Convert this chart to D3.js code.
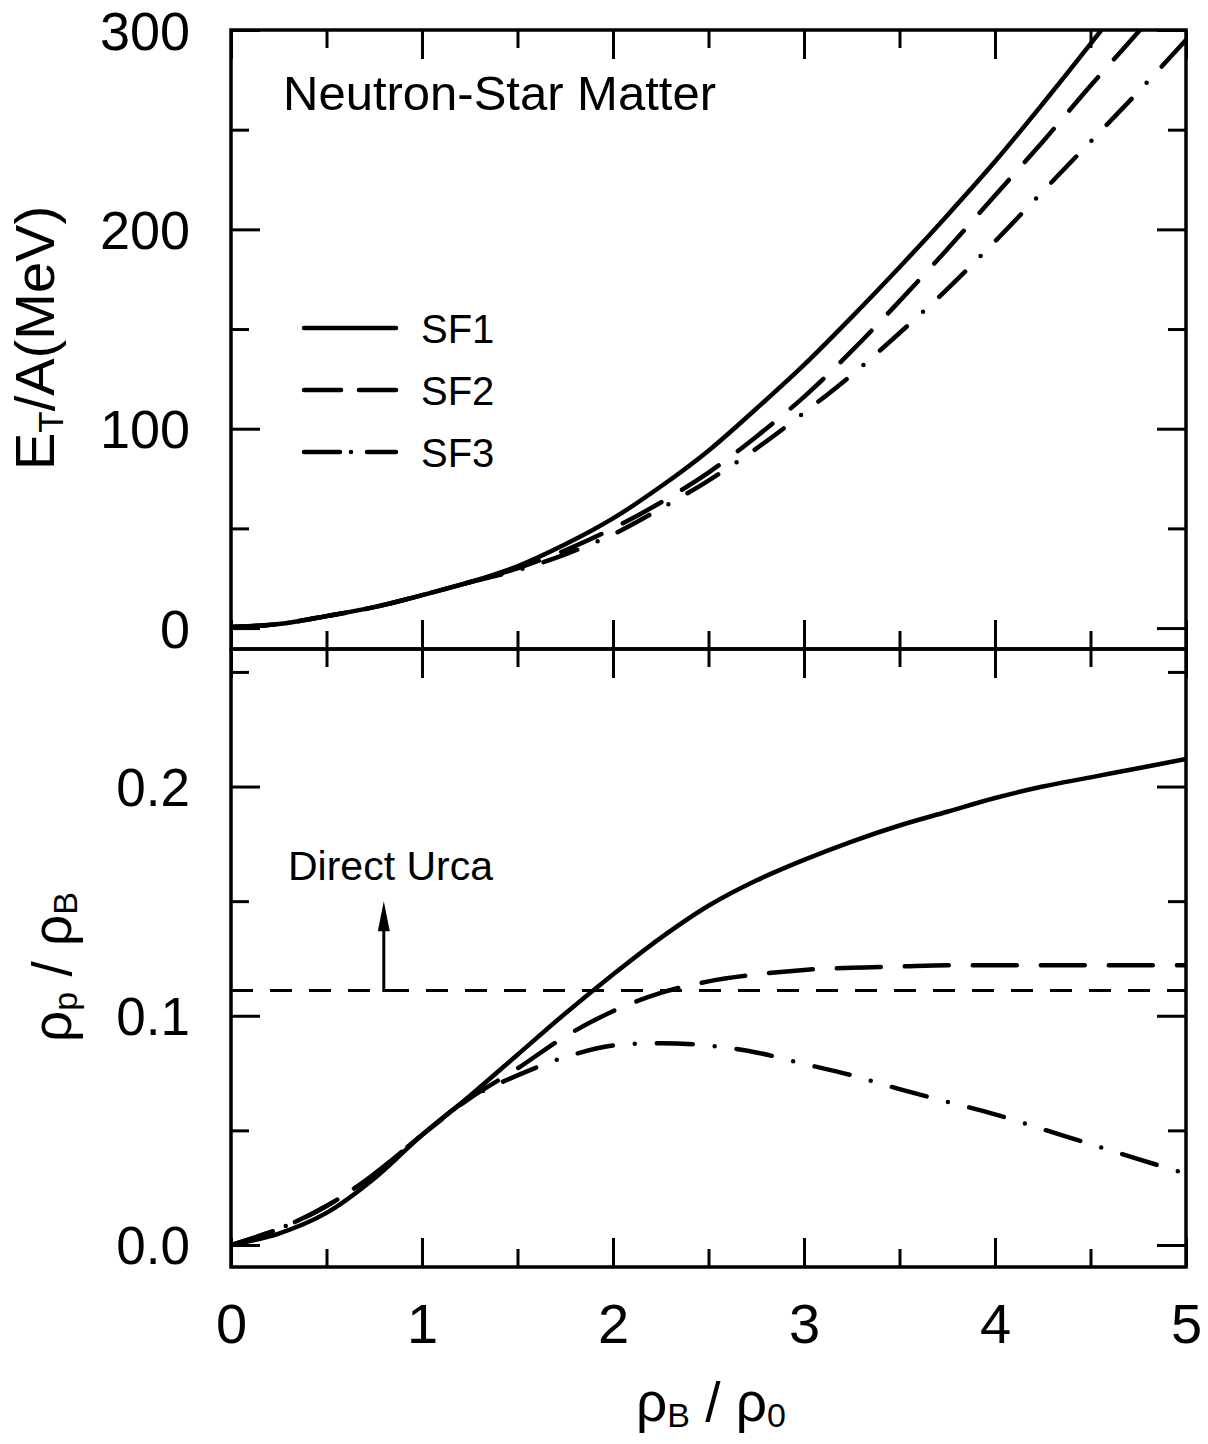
<!DOCTYPE html>
<html>
<head>
<meta charset="utf-8">
<script src="https://cdn.jsdelivr.net/npm/d3@7"></script>
<style>
  html, body { margin: 0; padding: 0; background: #fff; }
  svg { display: block; font-family: "Liberation Sans", Arial, Helvetica, sans-serif; }
</style>
</head>
<body>
<svg id="chart" width="1208" height="1444"></svg>
<script>
// density grid (rho_B / rho_0)
const rho = [0, 0.25, 0.5, 0.75, 1, 1.25, 1.5, 1.75, 2, 2.25, 2.5, 2.75, 3, 3.25, 3.5, 3.75, 4, 4.25, 4.5, 4.75, 5];

// E_T/A (MeV)
const sf1Energy = [0.5, 2, 6, 10.5, 16.5, 23, 31, 42, 55, 71, 89, 110, 132, 156, 181, 207, 234, 263, 293, 324, 356];
const sf2Energy = [0.5, 2, 6, 10.5, 16.5, 23, 30, 39, 50, 63, 78, 96, 116, 139, 164, 190, 217, 244, 272, 299, 326];
const sf3Energy = [0.5, 2, 6, 10.5, 16.5, 23, 29, 37, 47, 60, 74, 90, 108, 127, 148, 170, 194, 219, 244, 269, 295];

// proton fraction rho_p / rho_B, lower panel
const sf1Frac = [0, 0.005, 0.014, 0.029, 0.048, 0.065, 0.083, 0.101, 0.118, 0.134, 0.148, 0.159, 0.168, 0.176, 0.183, 0.189, 0.195, 0.200, 0.204, 0.208, 0.212];
const sf2Frac = [0, 0.007, 0.017, 0.031, 0.048, 0.064, 0.077, 0.091, 0.102, 0.110, 0.115, 0.118, 0.120, 0.121, 0.1215, 0.122, 0.122, 0.122, 0.122, 0.122, 0.122];
const sf3Frac = [0, 0.007, 0.017, 0.031, 0.048, 0.064, 0.074, 0.082, 0.087, 0.088, 0.087, 0.084, 0.079, 0.074, 0.068, 0.0625, 0.057, 0.0505, 0.044, 0.0375, 0.031];

// direct Urca threshold and its arrow
const urcaLevel = 0.111;
const urcaArrowX = 0.8;
const urcaArrowTip = 0.150;

const seriesNames = ["SF1", "SF2", "SF3"];
const xTicks = [0, 1, 2, 3, 4, 5];
const xMinor = [0.5, 1.5, 2.5, 3.5, 4.5];
const eTicks = [0, 100, 200, 300];
const eMinor = [50, 150, 250];
const fTicks = [0, 0.1, 0.2];
const fMinor = [0.05, 0.15, 0.25];

const svg = d3.select("#chart");
const left = 231, right = 1186;
const topY = 30, midY = 649, botY = 1267;
const MAJOR = 29, MINOR = 18;

const x = d3.scaleLinear().domain([0, 5]).range([left, right]);
const yE = d3.scaleLinear().domain([-10.5, 300]).range([midY, topY]);
const yF = d3.scaleLinear().domain([-0.0096, 0.26]).range([botY, midY]);

// line styles: [curve dasharray, legend dasharray]
const styles = {
    SF1: ["none", "none"],
    SF2: ["44,24", "37,18"],
    SF3: ["36,22,0,22", "36,11,0,16"]
};

const defs = svg.append("defs");
defs.append("clipPath").attr("id", "clipTop")
    .append("rect").attr("x", left).attr("y", topY).attr("width", right - left).attr("height", midY - topY);
defs.append("clipPath").attr("id", "clipBot")
    .append("rect").attr("x", left).attr("y", midY).attr("width", right - left).attr("height", botY - midY);

function tickAxis(axisFn, scale, values, size, translate) {
    const g = svg.append("g")
        .attr("transform", translate)
        .call(axisFn(scale).tickValues(values).tickSize(size).tickFormat(""));
    g.select(".domain").remove();
    g.selectAll(".tick line").attr("stroke", "#000").attr("stroke-width", 3);
    return g;
}

// ticks, all pointing into the panels
[[xTicks, MAJOR], [xMinor, MINOR]].forEach(([vals, size]) => {
    tickAxis(d3.axisBottom, x, vals, size, `translate(0,${topY})`);
    tickAxis(d3.axisTop, x, vals, size, `translate(0,${midY})`);
    tickAxis(d3.axisBottom, x, vals, size, `translate(0,${midY})`);
    tickAxis(d3.axisTop, x, vals, size, `translate(0,${botY})`);
});
[[eTicks, MAJOR], [eMinor, MINOR]].forEach(([vals, size]) => {
    tickAxis(d3.axisRight, yE, vals, size, `translate(${left},0)`);
    tickAxis(d3.axisLeft, yE, vals, size, `translate(${right},0)`);
});
[[fTicks, MAJOR], [fMinor, MINOR]].forEach(([vals, size]) => {
    tickAxis(d3.axisRight, yF, vals, size, `translate(${left},0)`);
    tickAxis(d3.axisLeft, yF, vals, size, `translate(${right},0)`);
});

// frames
svg.append("rect").attr("x", left).attr("y", topY).attr("width", right - left).attr("height", midY - topY)
    .attr("fill", "none").attr("stroke", "#000").attr("stroke-width", 3.5);
svg.append("rect").attr("x", left).attr("y", midY).attr("width", right - left).attr("height", botY - midY)
    .attr("fill", "none").attr("stroke", "#000").attr("stroke-width", 3.5);

// tick labels
function labelAxis(axis, translate, fontSize) {
    const g = svg.append("g").attr("transform", translate).call(axis);
    g.select(".domain").remove();
    g.selectAll(".tick line").remove();
    g.attr("font-family", null).attr("font-size", null);
    g.selectAll("text").attr("font-size", fontSize).attr("fill", "#000");
    return g;
}
labelAxis(d3.axisLeft(yE).tickValues(eTicks).tickSize(0).tickPadding(41).tickFormat(d3.format("d")),
    `translate(${left},2)`, 54);
labelAxis(d3.axisLeft(yF).tickValues(fTicks).tickSize(0).tickPadding(41).tickFormat(d3.format(".1f")),
    `translate(${left},2)`, 53);
labelAxis(d3.axisBottom(x).tickValues(xTicks).tickSize(0).tickPadding(36).tickFormat(d3.format("d")),
    `translate(0,${botY})`, 56);

// curves
const energies = [sf1Energy, sf2Energy, sf3Energy];
const fractions = [sf1Frac, sf2Frac, sf3Frac];

const lineE = d3.line().x(d => x(d[0])).y(d => yE(d[1])).curve(d3.curveCatmullRom);
const lineF = d3.line().x(d => x(d[0])).y(d => yF(d[1])).curve(d3.curveCatmullRom);

seriesNames.forEach((name, i) => {
    svg.append("path")
        .datum(rho.map((r, j) => [r, energies[i][j]]))
        .attr("clip-path", "url(#clipTop)")
        .attr("d", lineE)
        .attr("fill", "none").attr("stroke", "#000").attr("stroke-width", 4.5)
        .attr("stroke-linecap", "round")
        .attr("stroke-dasharray", styles[name][0]);
    svg.append("path")
        .datum(rho.map((r, j) => [r, fractions[i][j]]))
        .attr("clip-path", "url(#clipBot)")
        .attr("d", lineF)
        .attr("fill", "none").attr("stroke", "#000").attr("stroke-width", 4.5)
        .attr("stroke-linecap", "round")
        .attr("stroke-dasharray", styles[name][0]);
});

// direct Urca threshold
svg.append("line")
    .attr("x1", x(0)).attr("x2", x(5)).attr("y1", yF(urcaLevel)).attr("y2", yF(urcaLevel))
    .attr("stroke", "#000").attr("stroke-width", 3).attr("stroke-dasharray", "22,17");
svg.append("path")
    .attr("d", `M${x(urcaArrowX + 0.12)},${yF(urcaLevel)}H${x(urcaArrowX)}V${yF(urcaArrowTip) + 24}`)
    .attr("fill", "none").attr("stroke", "#000").attr("stroke-width", 3);
svg.append("path")
    .attr("d", `M${x(urcaArrowX)},${yF(urcaArrowTip)}l-6,30h12z`)
    .attr("fill", "#000");
svg.append("text").attr("x", 288).attr("y", 880).attr("font-size", 41).text("Direct Urca");

// panel title
svg.append("text").attr("x", 283).attr("y", 110).attr("font-size", 49).text("Neutron-Star Matter");

// legend
const legend = svg.append("g").attr("transform", "translate(302,328)");
seriesNames.forEach((name, i) => {
    const row = legend.append("g").attr("transform", `translate(0,${i * 62})`);
    row.append("line").attr("x1", 2).attr("x2", 94)
        .attr("stroke", "#000").attr("stroke-width", 4.5).attr("stroke-linecap", "round")
        .attr("stroke-dasharray", styles[name][1]);
    row.append("text").attr("x", 119).attr("y", 15).attr("font-size", 40).text(name);
});

// axis titles
const tTop = svg.append("text")
    .attr("transform", "translate(54,338) rotate(-90)")
    .attr("text-anchor", "middle").attr("font-size", 56);
tTop.append("tspan").text("E");
tTop.append("tspan").attr("font-size", 35).attr("dy", 9).text("T");
tTop.append("tspan").attr("dy", -9).text("/A(MeV)");

const tBot = svg.append("text")
    .attr("transform", "translate(71,967) rotate(-90)")
    .attr("text-anchor", "middle").attr("font-size", 55);
tBot.append("tspan").text("ρ");
tBot.append("tspan").attr("font-size", 34).attr("dy", 6).text("p");
tBot.append("tspan").attr("dy", -6).text(" / ρ");
tBot.append("tspan").attr("font-size", 34).attr("dy", 6).text("B");

const tX = svg.append("text")
    .attr("x", 711).attr("y", 1421)
    .attr("text-anchor", "middle").attr("font-size", 55);
tX.append("tspan").text("ρ");
tX.append("tspan").attr("font-size", 34).attr("dy", 6).text("B");
tX.append("tspan").attr("dy", -6).text(" / ρ");
tX.append("tspan").attr("font-size", 34).attr("dy", 6).text("0");
</script>
</body>
</html>
